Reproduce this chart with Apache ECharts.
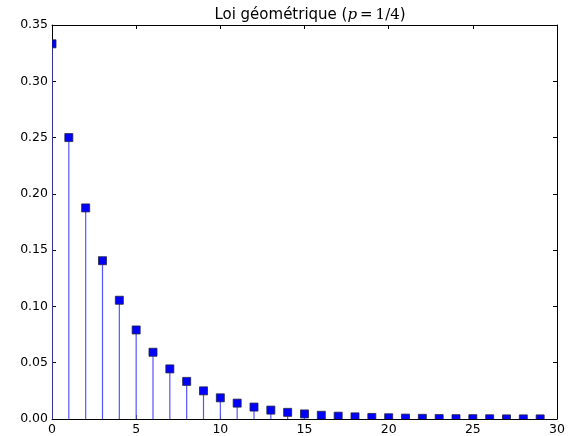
<!DOCTYPE html>
<html lang="fr">
<head>
    <meta charset="UTF-8">
    <script src="https://cdn.jsdelivr.net/npm/echarts@6/dist/echarts.min.js"></script>
    <title>Loi géométrique</title>
</head>
<body style="margin:0; background:#fff;">
<div id="container" style="width:578px; height:436px;"></div>
<script>
    // valeurs
    let ks = [0, 1, 2, 3, 4, 5, 6, 7, 8, 9, 10, 11, 12, 13, 14, 15, 16, 17, 18, 19, 20, 21, 22, 23, 24, 25, 26, 27, 28, 29];
    let probs = [0.3333, 0.25, 0.1875, 0.1406, 0.1055, 0.0791, 0.0593, 0.0445, 0.0334, 0.0250,
        0.0188, 0.0141, 0.0106, 0.0079, 0.0059, 0.0045, 0.0033, 0.0025, 0.0019, 0.0014,
        0.0011, 0.0008, 0.0006, 0.0004, 0.0003, 0.0003, 0.0002, 0.0001, 0.0001, 0.0001];
    let xTicks = [0, 5, 10, 15, 20, 25, 30];
    let yTicks = [0, 0.05, 0.10, 0.15, 0.20, 0.25, 0.30, 0.35];

    let dom = document.getElementById('container');
    let myChart = echarts.init(dom);
    let data = ks.map(function (k, i) { return [k, probs[i]]; });
    let font = 'DejaVu Sans';

    function baseAxis(extra) {
        return Object.assign({
            axisLine: {show: true, onZero: false, lineStyle: {color: '#000', width: 1}},
            axisTick: {show: true, inside: true, length: 4, lineStyle: {color: '#000'}},
            splitLine: {show: false}
        }, extra);
    }

    let option = {
        animation: false,
        title: {
            text: '{a|Loi géométrique (}{i|p}{m|\u2009=\u20091/4}{a|)}',
            left: 305,
            textAlign: 'center',
            top: 3,
            textStyle: {
                fontWeight: 'normal',
                rich: {
                    a: {fontFamily: font, fontSize: 15, fontWeight: 'normal', color: '#000'},
                    i: {fontFamily: 'DejaVu Serif', fontStyle: 'italic', fontWeight: 'normal', fontSize: 15, color: '#000'},
                    m: {fontFamily: 'DejaVu Serif', fontWeight: 'normal', fontSize: 15, color: '#000'}
                }
            }
        },
        grid: {left: 52, right: 21, top: 25, bottom: 15, containLabel: false},
        xAxis: [
            baseAxis({
                type: 'value', min: 0, max: 30, interval: 5, position: 'bottom',
                axisLabel: {color: '#000', fontFamily: font, fontSize: 12.5, margin: 4}
            }),
            baseAxis({
                type: 'value', min: 0, max: 30, interval: 5, position: 'top',
                axisLabel: {show: false}
            })
        ],
        yAxis: [
            baseAxis({
                type: 'value', min: 0, max: 0.35, interval: 0.05, position: 'left',
                axisLabel: {color: '#000', fontFamily: font, fontSize: 12.5, margin: 4,
                    formatter: function (v) { return v.toFixed(2); }}
            }),
            baseAxis({
                type: 'value', min: 0, max: 0.35, interval: 0.05, position: 'right',
                axisLabel: {show: false}
            })
        ],
        series: [
            {
                type: 'custom',
                clip: true,
                data: data,
                renderItem: function (params, api) {
                    let top = api.coord([api.value(0), api.value(1)]);
                    let base = api.coord([api.value(0), 0]);
                    // bord gauche de la zone de tracé : coupe le marqueur en x = 0
                    let left = api.coord([0, 0])[0];
                    let x0 = Math.max(top[0] - 4, left);
                    let x1 = top[0] + 4;
                    return {
                        type: 'group',
                        children: [
                            {
                                type: 'line',
                                shape: {x1: base[0], y1: base[1], x2: top[0], y2: top[1]},
                                style: {stroke: '#5555ff', lineWidth: 1.2}
                            },
                            {
                                type: 'rect',
                                shape: {x: x0, y: top[1] - 4, width: x1 - x0, height: 8},
                                style: {fill: '#0000ff', stroke: '#222244', lineWidth: 0.8}
                            }
                        ]
                    };
                }
            }
        ]
    };

    myChart.setOption(option);
</script>
</body>
</html>
